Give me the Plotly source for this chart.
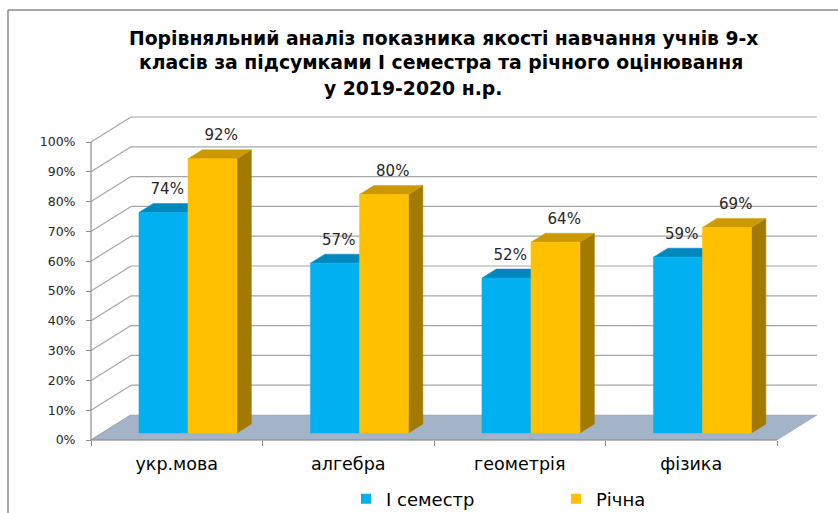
import plotly.graph_objects as go

# ---------------- data ----------------
categories = ["укр.мова", "алгебра", "геометрія", "фізика"]
semester1 = [74, 57, 52, 59]
annual = [92, 80, 64, 69]
series_names = ["І семестр", "Річна"]
y_ticks = [0, 10, 20, 30, 40, 50, 60, 70, 80, 90, 100]
title_lines = [
    "Порівняльний аналіз показника якості навчання учнів 9-х",
    "класів за підсумками І семестра та річного оцінювання",
    "у 2019-2020 н.р.",
]

# ---------------- geometry / style ----------------
W, H = 838, 513
AX_X0 = 91.0       # px of front-left corner (category -0.5)
CAT_W = 171.5      # px per category
Y0 = 440.0         # px of 0% on the front plane
PX_PER = 2.98      # px per percent
DEPTH_PX = (40.0, 25.0)
DX = DEPTH_PX[0] / CAT_W
DY = DEPTH_PX[1] / PX_PER
Z0, Z1 = 0.28, 0.64      # bar depth (fraction of floor depth)
BAR_W = 49.0 / CAT_W
LABEL_DX = [-5.0 / CAT_W, 0.0]   # small per-series label nudge

x_range = [-0.5 - AX_X0 / CAT_W, -0.5 + (W - AX_X0) / CAT_W]
y_range = [-(H - Y0) / PX_PER, Y0 / PX_PER]

colors = {
    0: dict(front="#00B0F0", top="#0088BE", side="#0077A8"),
    1: dict(front="#FFC000", top="#CC9A00", side="#A27A00"),
}
GRID = "#A6A6A6"
FLOOR = "#A3B4C9"
FONT_TXT = "DejaVu Sans"
FONT_NUM = "DejaVu Sans"


def proj(x, y, z):
    return x + z * DX, y + z * DY


def poly(points, color, line_color=None):
    xs = [p[0] for p in points] + [points[0][0]]
    ys = [p[1] for p in points] + [points[0][1]]
    return go.Scatter(
        x=xs, y=ys, mode="lines", fill="toself", fillcolor=color,
        line=dict(color=line_color or color, width=0.5),
        hoverinfo="skip", showlegend=False,
    )


def seg(p, q, color=GRID, width=1.2):
    return go.Scatter(
        x=[p[0], q[0]], y=[p[1], q[1]], mode="lines",
        line=dict(color=color, width=width), hoverinfo="skip", showlegend=False,
    )


fig = go.Figure()
n = len(categories)
xl, xr = -0.5, n - 0.5

# walls: back gridlines + side diagonals
for t in y_ticks:
    if t > 0:
        fig.add_trace(seg(proj(xl, t, 1), proj(xr, t, 1)))
    fig.add_trace(seg(proj(xl, t, 0), proj(xl, t, 1)))

# floor
fig.add_trace(poly([proj(xl, 0, 0), proj(xr, 0, 0), proj(xr, 0, 1), proj(xl, 0, 1)], FLOOR, "#8C9CB0"))

# front axis line
fig.add_trace(seg(proj(xl, 0, 0), proj(xl, 100, 0), color="#8C8C8C", width=1.2))
# bottom axis line
fig.add_trace(seg(proj(xl, 0, 0), proj(xr, 0, 0), color="#8C8C8C", width=1.2))

# bars
label_x, label_y, label_t = [], [], []
for i in range(n):
    for s, vals in enumerate([semester1, annual]):
        v = vals[i]
        c = colors[s]
        x0 = i - BAR_W + s * BAR_W
        x1 = x0 + BAR_W
        # side
        fig.add_trace(poly([proj(x1, 0, Z0), proj(x1, v, Z0), proj(x1, v, Z1), proj(x1, 0, Z1)], c["side"]))
        # top
        fig.add_trace(poly([proj(x0, v, Z0), proj(x1, v, Z0), proj(x1, v, Z1), proj(x0, v, Z1)], c["top"]))
        # front
        fig.add_trace(poly([proj(x0, 0, Z0), proj(x1, 0, Z0), proj(x1, v, Z0), proj(x0, v, Z0)], c["front"]))
        lx, ly = proj((x0 + x1) / 2, v, 0.5)
        label_x.append(lx + LABEL_DX[s])
        label_y.append(ly + 5.6)
        label_t.append(f"{v}%")

fig.add_trace(go.Scatter(
    x=label_x, y=label_y, text=label_t, mode="text", textposition="middle center",
    textfont=dict(family=FONT_NUM, size=15, color="#262626"),
    hoverinfo="skip", showlegend=False,
))

# legend entries
for s, name in enumerate(series_names):
    fig.add_trace(go.Scatter(
        x=[None], y=[None], mode="markers", name=name,
        marker=dict(symbol="square", size=10, color=colors[s]["front"]),
    ))

# title annotations
title_x = [443, 441, 413]
for k, line in enumerate(title_lines):
    fig.add_annotation(
        text=f"<b>{line}</b>", x=title_x[k] / W, y=1 - (38 + 25 * k) / H,
        xref="paper", yref="paper", xanchor="center", yanchor="middle",
        showarrow=False, font=dict(family=FONT_TXT, size=18.8, color="#000000"),
    )

# frame
fig.add_shape(type="line", xref="paper", yref="paper", x0=8 / W, x1=1, y0=1 - 10 / H, y1=1 - 10 / H,
              line=dict(color="#8C8C8C", width=1.5))
fig.add_shape(type="line", xref="paper", yref="paper", x0=8 / W, x1=8 / W, y0=0, y1=1 - 10 / H,
              line=dict(color="#8C8C8C", width=1.5))

fig.update_layout(
    width=W, height=H,
    margin=dict(l=0, r=0, t=0, b=0, autoexpand=False),
    paper_bgcolor="white", plot_bgcolor="white",
    showlegend=True,
    legend=dict(
        orientation="h", x=346 / W, y=1 - 499 / H, xanchor="left", yanchor="middle",
        entrywidth=165, entrywidthmode="pixels",
        font=dict(family=FONT_TXT, size=18, color="#000000"),
        bgcolor="rgba(0,0,0,0)", itemclick=False,
    ),
    xaxis=dict(
        range=x_range, showgrid=False, zeroline=False, showline=False,
        tickvals=list(range(n)), ticktext=categories, ticks="",
        tickfont=dict(family=FONT_TXT, size=17.5, color="#000000"),
        anchor="free", position=1 - Y0 / H, domain=[0, 1],
        ticklabelstandoff=11, automargin=False,
        minor=dict(tickvals=[i - 0.5 for i in range(n + 1)], ticks="outside", ticklen=5,
                   tickcolor="#8C8C8C", showgrid=False),
        fixedrange=True,
    ),
    yaxis=dict(
        range=y_range, showgrid=False, zeroline=False, showline=False,
        tickvals=y_ticks, ticktext=[f"{t}%" for t in y_ticks], ticks="outside",
        ticklen=5, tickcolor="#8C8C8C", ticklabelstandoff=8,
        tickfont=dict(family=FONT_NUM, size=12.5, color="#262626"),
        anchor="free", position=AX_X0 / W, domain=[0, 1], automargin=False,
        fixedrange=True,
    ),
)

fig.write_html("out.html", config={"displayModeBar": False},
               post_script="document.body.style.margin='0';")
